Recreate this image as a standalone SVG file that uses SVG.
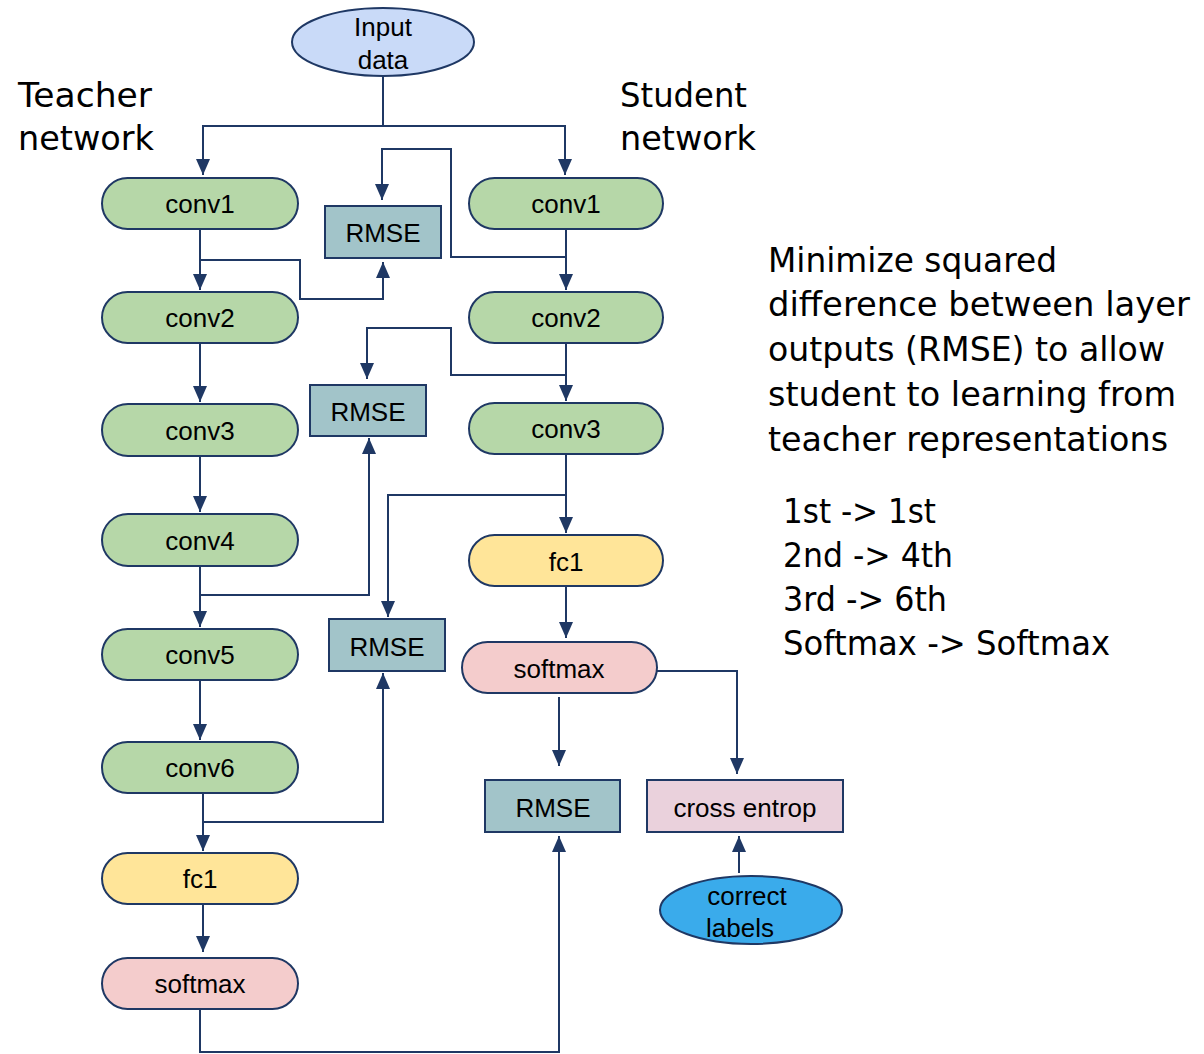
<svg xmlns="http://www.w3.org/2000/svg" width="1204" height="1054" viewBox="0 0 1204 1054">
<style>
.n{stroke:#1f3864;stroke-width:2}
.g{fill:#b6d7a8}.y{fill:#ffe599}.p{fill:#f4cccc}.r{fill:#a2c4c9}.ce{fill:#ead1dc}.in{fill:#c9daf8}.cl{fill:#3aabeb}
.t{font-family:"Liberation Sans",Arial,sans-serif;font-size:26px;fill:#000;text-anchor:middle}
.big{font-family:"DejaVu Sans",Verdana,sans-serif;font-size:33.5px;fill:#000}
.c{fill:none;stroke:#1f3864;stroke-width:2}
</style>
<defs>
<marker id="a" markerUnits="userSpaceOnUse" markerWidth="16" markerHeight="14" viewBox="0 0 16 14" refX="16" refY="7" orient="auto">
<path d="M0,0 L16,7 L0,14 z" fill="#1f3864"/>
</marker>
</defs>
<rect width="1204" height="1054" fill="#fff"/>
<g id="connectors">
<path class="c" d="M383,76 V126 H203 V175" marker-end="url(#a)"/>
<path class="c" d="M383,126 H565 V175" marker-end="url(#a)"/>
<path class="c" d="M200,229 V290" marker-end="url(#a)"/>
<path class="c" d="M201,260 H300 V299 H383 V262" marker-end="url(#a)"/>
<path class="c" d="M566,257 H451 V149 H382 V200" marker-end="url(#a)"/>
<path class="c" d="M566,229 V290" marker-end="url(#a)"/>
<path class="c" d="M200,343 V402" marker-end="url(#a)"/>
<path class="c" d="M566,343 V401" marker-end="url(#a)"/>
<path class="c" d="M566,375 H451 V328 H367 V379" marker-end="url(#a)"/>
<path class="c" d="M200,456 V512" marker-end="url(#a)"/>
<path class="c" d="M201,595 H369 V438" marker-end="url(#a)"/>
<path class="c" d="M200,566 V627" marker-end="url(#a)"/>
<path class="c" d="M566,454 V533" marker-end="url(#a)"/>
<path class="c" d="M566,495 H388 V617" marker-end="url(#a)"/>
<path class="c" d="M200,680 V740" marker-end="url(#a)"/>
<path class="c" d="M203,822 H383 V673" marker-end="url(#a)"/>
<path class="c" d="M203,793 V851" marker-end="url(#a)"/>
<path class="c" d="M203,904 V952" marker-end="url(#a)"/>
<path class="c" d="M566,586 V638" marker-end="url(#a)"/>
<path class="c" d="M559,697 V766" marker-end="url(#a)"/>
<path class="c" d="M657,671 H737 V774" marker-end="url(#a)"/>
<path class="c" d="M739,873 V836" marker-end="url(#a)"/>
<path class="c" d="M200,1009 V1052 H559 V836" marker-end="url(#a)"/>
</g>
<g id="input"><ellipse class="n in" cx="383" cy="42" rx="91" ry="34"/><text class="t" x="383" y="36">Input</text><text class="t" x="383" y="69">data</text></g>
<g id="t-conv1"><rect class="n g" x="102" y="178" width="196" height="51" rx="25.5"/><text class="t" x="200" y="213">conv1</text></g>
<g id="t-conv2"><rect class="n g" x="102" y="292" width="196" height="51" rx="25.5"/><text class="t" x="200" y="327">conv2</text></g>
<g id="t-conv3"><rect class="n g" x="102" y="404" width="196" height="52" rx="26"/><text class="t" x="200" y="440">conv3</text></g>
<g id="t-conv4"><rect class="n g" x="102" y="514" width="196" height="52" rx="26"/><text class="t" x="200" y="550">conv4</text></g>
<g id="t-conv5"><rect class="n g" x="102" y="629" width="196" height="51" rx="25.5"/><text class="t" x="200" y="664">conv5</text></g>
<g id="t-conv6"><rect class="n g" x="102" y="742" width="196" height="51" rx="25.5"/><text class="t" x="200" y="777">conv6</text></g>
<g id="t-fc1"><rect class="n y" x="102" y="853" width="196" height="51" rx="25.5"/><text class="t" x="200" y="888">fc1</text></g>
<g id="t-softmax"><rect class="n p" x="102" y="958" width="196" height="51" rx="25.5"/><text class="t" x="200" y="993">softmax</text></g>
<g id="s-conv1"><rect class="n g" x="469" y="178" width="194" height="51" rx="25.5"/><text class="t" x="566" y="213">conv1</text></g>
<g id="s-conv2"><rect class="n g" x="469" y="292" width="194" height="51" rx="25.5"/><text class="t" x="566" y="327">conv2</text></g>
<g id="s-conv3"><rect class="n g" x="469" y="403" width="194" height="51" rx="25.5"/><text class="t" x="566" y="438">conv3</text></g>
<g id="s-fc1"><rect class="n y" x="469" y="535" width="194" height="51" rx="25.5"/><text class="t" x="566" y="571">fc1</text></g>
<g id="s-softmax"><rect class="n p" x="462" y="642" width="195" height="51" rx="25.5"/><text class="t" x="559" y="678">softmax</text></g>
<g id="rmse1"><rect class="n r" x="325" y="206" width="116" height="52"/><text class="t" x="383" y="242">RMSE</text></g>
<g id="rmse2"><rect class="n r" x="310" y="385" width="116" height="51"/><text class="t" x="368" y="421">RMSE</text></g>
<g id="rmse3"><rect class="n r" x="329" y="619" width="116" height="52"/><text class="t" x="387" y="656">RMSE</text></g>
<g id="rmse4"><rect class="n r" x="485" y="780" width="135" height="52"/><text class="t" x="553" y="817">RMSE</text></g>
<g id="cross"><rect class="n ce" x="647" y="780" width="196" height="52"/><text class="t" x="745" y="817">cross entrop</text></g>
<g id="labels"><ellipse class="n cl" cx="751" cy="910" rx="91" ry="34"/><text class="t" x="747" y="905">correct</text><text class="t" x="740" y="937">labels</text></g>
<g id="titles">
<text class="big" x="18" y="107" textLength="134" lengthAdjust="spacingAndGlyphs">Teacher</text><text class="big" x="18" y="150" textLength="136" lengthAdjust="spacingAndGlyphs">network</text>
<text class="big" x="620" y="107" textLength="127" lengthAdjust="spacingAndGlyphs">Student</text><text class="big" x="620" y="150" textLength="136" lengthAdjust="spacingAndGlyphs">network</text>
</g>
<g id="note">
<text class="big" x="768" y="272" textLength="289" lengthAdjust="spacingAndGlyphs">Minimize squared</text>
<text class="big" x="768" y="316" textLength="422" lengthAdjust="spacingAndGlyphs">difference between layer</text>
<text class="big" x="768" y="361" textLength="397" lengthAdjust="spacingAndGlyphs">outputs (RMSE) to allow</text>
<text class="big" x="768" y="406" textLength="408" lengthAdjust="spacingAndGlyphs">student to learning from</text>
<text class="big" x="768" y="451" textLength="400" lengthAdjust="spacingAndGlyphs">teacher representations</text>
<text class="big" x="783" y="523" textLength="153" lengthAdjust="spacingAndGlyphs">1st -&gt; 1st</text>
<text class="big" x="783" y="567" textLength="170" lengthAdjust="spacingAndGlyphs">2nd -&gt; 4th</text>
<text class="big" x="783" y="611" textLength="164" lengthAdjust="spacingAndGlyphs">3rd -&gt; 6th</text>
<text class="big" x="783" y="655" textLength="327" lengthAdjust="spacingAndGlyphs">Softmax -&gt; Softmax</text>
</g>
</svg>
